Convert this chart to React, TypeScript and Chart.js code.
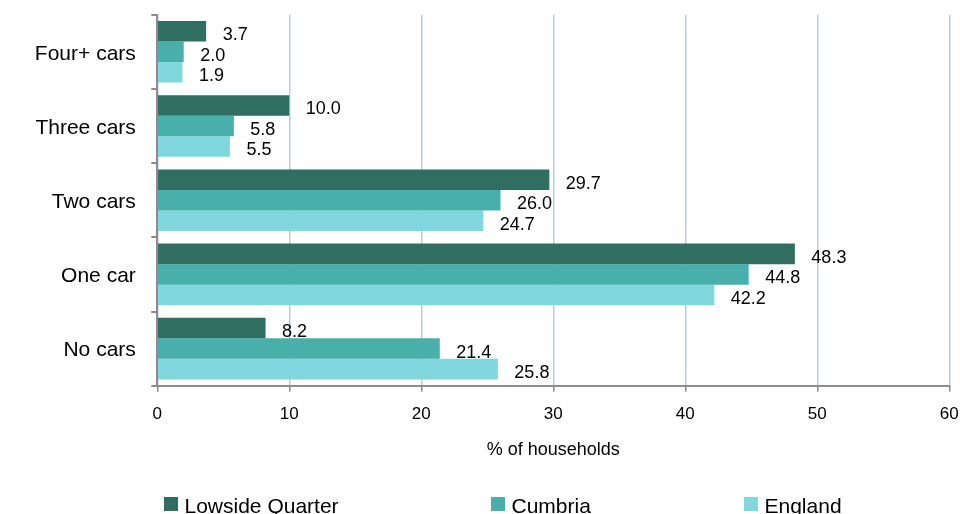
import React, { useEffect, useRef } from "react";
import { Chart, registerables } from "chart.js";

Chart.register(...registerables);

const categories = ["Four+ cars", "Three cars", "Two cars", "One car", "No cars"];
const seriesNames = ["Lowside Quarter", "Cumbria", "England"];
const lowsideQuarter = [3.7, 10.0, 29.7, 48.3, 8.2];
const cumbria = [2.0, 5.8, 26.0, 44.8, 21.4];
const england = [1.9, 5.5, 24.7, 42.2, 25.8];
const seriesColors = ["#316e62", "#48afab", "#80d7de"];
const xTitle = "% of households";

const FONT = "'Liberation Sans', Arial, sans-serif";

const valueLabels = {
  id: "valueLabels",
  afterDatasetsDraw(chart: any) {
    const ctx = chart.ctx;
    ctx.save();
    ctx.font = `18px ${FONT}`;
    ctx.fillStyle = "#000";
    ctx.textAlign = "left";
    ctx.textBaseline = "middle";
    chart.data.datasets.forEach((ds: any, di: number) => {
      const meta = chart.getDatasetMeta(di);
      meta.data.forEach((bar: any, i: number) => {
        const v = ds.data[i];
        ctx.fillText(v.toFixed(1), bar.x + 16.5, bar.y + 4);
      });
    });
    ctx.restore();
  },
};

const legendBoxX = [164, 491, 744];

const customLegend = {
  id: "customLegend",
  afterDraw(chart: any) {
    const ctx = chart.ctx;
    ctx.save();
    ctx.font = `21px ${FONT}`;
    ctx.textAlign = "left";
    ctx.textBaseline = "alphabetic";
    const baseY = 512.5;
    chart.data.datasets.forEach((ds: any, i: number) => {
      const x = legendBoxX[i];
      ctx.fillStyle = ds.backgroundColor;
      ctx.fillRect(x, 497, 14, 14);
      ctx.fillStyle = "#000";
      ctx.fillText(ds.label, x + 20.5, baseY);
    });
    ctx.restore();
  },
};

export default function App() {
  const ref = useRef<HTMLCanvasElement | null>(null);
  useEffect(() => {
    if (!ref.current) return;
    const values = [lowsideQuarter, cumbria, england];
    const chart = new Chart(ref.current, {
      type: "bar",
      data: {
        labels: categories,
        datasets: seriesNames.map((name, i) => ({
          label: name,
          data: values[i],
          backgroundColor: seriesColors[i],
          borderWidth: 0,
          categoryPercentage: 0.83,
          barPercentage: 1.0,
        })),
      },
      options: {
        indexAxis: "y",
        animation: false,
        responsive: false,
        maintainAspectRatio: false,
        layout: { padding: { left: 0, right: 10.7, top: 14.7, bottom: 0 } },
        plugins: {
          legend: { display: false },
          tooltip: { enabled: false },
        },
        scales: {
          x: {
            min: 0,
            max: 60,
            ticks: {
              stepSize: 10,
              color: "#000",
              font: { family: FONT, size: 17 },
              padding: 12.6,
              maxRotation: 0,
            },
            grid: {
              color: "#b6cde8",
              lineWidth: 1.5,
              tickColor: "#8c8c8c",
              tickLength: 6,
              drawTicks: true,
            },
            border: { color: "#8c8c8c", width: 2 },
            title: {
              display: true,
              text: xTitle,
              color: "#000",
              font: { family: FONT, size: 18 },
              padding: { top: 0, bottom: 53.2 },
            },
            afterFit(scale: any) {
              scale.height = 514 - 385.7;
              scale.paddingLeft = 0;
              scale.paddingRight = 0;
            },
          },
          y: {
            ticks: {
              color: "#000",
              font: { family: FONT, size: 21 },
              padding: 15.5,
              labelOffset: 2,
            },
            grid: {
              display: true,
              offset: true,
              drawOnChartArea: false,
              drawTicks: true,
              tickLength: 6,
              color: "#8c8c8c",
              tickColor: "#8c8c8c",
              lineWidth: 2,
            },
            border: { color: "#8c8c8c", width: 2 },
            afterFit(scale: any) {
              scale.width = 157.3;
              scale.paddingTop = 0;
              scale.paddingBottom = 0;
            },
          },
        },
      },
      plugins: [valueLabels, customLegend],
    } as any);
    return () => chart.destroy();
  }, []);
  return (
    <div style={{ position: "absolute", left: 0, top: 0, width: 960, height: 514, background: "#fff" }}>
      <canvas ref={ref} width={960} height={514} style={{ display: "block", width: 960, height: 514 }} />
    </div>
  );
}
